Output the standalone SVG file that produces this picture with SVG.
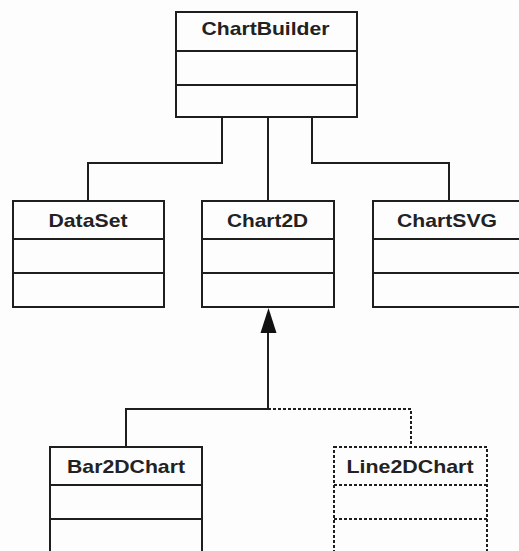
<svg xmlns="http://www.w3.org/2000/svg" width="519" height="551" viewBox="0 0 519 551">
<style>
.box{fill:none;stroke:#1e1e1e;stroke-width:2}
.dash{stroke-dasharray:3 2}
.ln{fill:none;stroke:#1e1e1e;stroke-width:2}
.t{font-family:"Liberation Sans",Arial,sans-serif;font-weight:bold;font-size:19px;fill:#222;text-anchor:middle}
</style>
<rect width="519" height="551" fill="#fdfdfd"/>
<g id="connectors">
<path class="ln" d="M222 117 V163 H88 V201"/>
<path class="ln" d="M268 117 V201"/>
<path class="ln" d="M312 117 V163 H449 V201"/>
<path class="ln" d="M268 409 V330"/>
<polygon points="268.5,308 260.5,333 276.5,333" fill="#111"/>
<path class="ln" d="M126 447 V409 H268"/>
<path class="ln dash" d="M268 409 H411 V447"/>
</g>
<g id="ChartBuilder">
<rect class="box" x="176" y="12" width="181" height="105"/>
<path class="ln" d="M176 51 H357 M176 85 H357"/>
<text class="t" x="265.5" y="35" textLength="128" lengthAdjust="spacingAndGlyphs">ChartBuilder</text>
</g>
<g id="DataSet">
<rect class="box" x="13" y="201" width="151" height="106"/>
<path class="ln" d="M13 239 H164 M13 273 H164"/>
<text class="t" x="88" y="226.5" textLength="79" lengthAdjust="spacingAndGlyphs">DataSet</text>
</g>
<g id="Chart2D">
<rect class="box" x="202" y="201" width="132" height="106"/>
<path class="ln" d="M202 239 H334 M202 273 H334"/>
<text class="t" x="267.5" y="226.5" textLength="81" lengthAdjust="spacingAndGlyphs">Chart2D</text>
</g>
<g id="ChartSVG">
<rect class="box" x="373" y="201" width="151" height="106"/>
<path class="ln" d="M373 239 H524 M373 273 H524"/>
<text class="t" x="447" y="226.5" textLength="100" lengthAdjust="spacingAndGlyphs">ChartSVG</text>
</g>
<g id="Bar2DChart">
<rect class="box" x="50" y="447" width="152" height="115"/>
<path class="ln" d="M50 485 H202 M50 519 H202"/>
<text class="t" x="126" y="472.5" textLength="118" lengthAdjust="spacingAndGlyphs">Bar2DChart</text>
</g>
<g id="Line2DChart">
<rect class="box dash" x="334" y="447" width="153" height="115"/>
<path class="ln dash" d="M334 485 H487 M334 519 H487"/>
<text class="t" x="410" y="472.5" textLength="127" lengthAdjust="spacingAndGlyphs">Line2DChart</text>
</g>
</svg>
